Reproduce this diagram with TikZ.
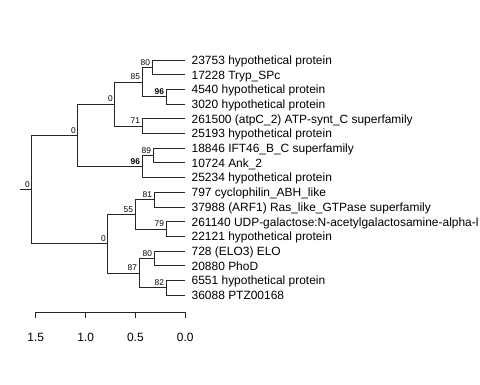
\documentclass[tikz,border=0pt]{standalone}
\usepackage{fontspec}
\setmainfont{Liberation Sans}
\begin{document}
\begin{tikzpicture}[x=1bp,y=-1bp,
  br/.style={draw=black!85,line width=0.9bp},
  tip/.style={font=\fontsize{12}{14}\selectfont,inner sep=0pt,anchor=base west},
  nl/.style={font=\fontsize{8.4}{10}\selectfont,inner sep=0pt,anchor=south east},
  nlb/.style={nl,font=\fontsize{8.4}{10}\selectfont\bfseries},
  axl/.style={font=\fontsize{12}{14}\selectfont,inner sep=0pt,anchor=base}]
\useasboundingbox (0,0) rectangle (480,384);
% internal nodes
\coordinate (R) at (31,189.55);
\coordinate (S) at (20,189.55);
\coordinate (A) at (77,135.35);
\coordinate (B) at (114,104.1);
\coordinate (C) at (142,82.05);
\coordinate (D) at (152,67.35);
\coordinate (E) at (166,96.75);
\coordinate (F) at (142,126.15);
\coordinate (G) at (142,166.6);
\coordinate (H) at (153,155.55);
\coordinate (I) at (107,243.75);
\coordinate (J) at (135,214.35);
\coordinate (K) at (154,199.65);
\coordinate (L) at (166,229.05);
\coordinate (M) at (139,273.15);
\coordinate (N) at (154,258.45);
\coordinate (O) at (166,287.85);
% tips
\foreach \i in {0,...,16}{\coordinate (t\i) at (184.5,{60+14.7*\i});}
% branches
\draw[br] (S) -- (R);
\draw[br] (R) |- (A); \draw[br] (R) |- (I);
\draw[br] (A) |- (B); \draw[br] (A) |- (G);
\draw[br] (B) |- (C); \draw[br] (B) |- (F);
\draw[br] (C) |- (D); \draw[br] (C) |- (E);
\draw[br] (D) |- (t0); \draw[br] (D) |- (t1);
\draw[br] (E) |- (t2); \draw[br] (E) |- (t3);
\draw[br] (F) |- (t4); \draw[br] (F) |- (t5);
\draw[br] (G) |- (H); \draw[br] (G) |- (t8);
\draw[br] (H) |- (t6); \draw[br] (H) |- (t7);
\draw[br] (I) |- (J); \draw[br] (I) |- (M);
\draw[br] (J) |- (K); \draw[br] (J) |- (L);
\draw[br] (K) |- (t9); \draw[br] (K) |- (t10);
\draw[br] (L) |- (t11); \draw[br] (L) |- (t12);
\draw[br] (M) |- (N); \draw[br] (M) |- (O);
\draw[br] (N) |- (t13); \draw[br] (N) |- (t14);
\draw[br] (O) |- (t15); \draw[br] (O) |- (t16);
% tip labels
\foreach \i/\t in {0/23753 hypothetical protein,1/17228 Tryp\_SPc,2/4540 hypothetical protein,3/3020 hypothetical protein,4/261500 (atpC\_2) ATP-synt\_C superfamily,5/25193 hypothetical protein,6/18846 IFT46\_B\_C superfamily,7/10724 Ank\_2,8/25234 hypothetical protein,9/797 cyclophilin\_ABH\_like,10/37988 (ARF1) Ras\_like\_GTPase superfamily,11/261140 UDP-galactose:N-acetylgalactosamine-alpha-l,12/22121 hypothetical protein,13/728 (ELO3) ELO,14/20880 PhoD,15/6551 hypothetical protein,16/36088 PTZ00168}
  {\path (t\i) ++(7,4.3) node[tip] (n\i) {\t};}
% node labels
\path (R) ++(-1,-2) node[nl] (lR) {0};
\path (A) ++(-1,-2) node[nl] (lA) {0};
\path (B) ++(-1,-2) node[nl] (lB) {0};
\path (C) ++(-1.8,-2) node[nl] (lC) {85};
\path (D) ++(-1.8,-2) node[nl] (lD) {80};
\path (E) ++(-1.8,-2) node[nlb] (lE) {96};
\path (F) ++(-1.8,-2) node[nl] (lF) {71};
\path (G) ++(-1.8,-2) node[nlb] (lG) {96};
\path (H) ++(-1.8,-2) node[nl] (lH) {89};
\path (I) ++(-1,-2) node[nl] (lI) {0};
\path (J) ++(-1.8,-2) node[nl] (lJ) {55};
\path (K) ++(-1.8,-2) node[nl] (lK) {81};
\path (L) ++(-1.8,-2) node[nl] (lL) {79};
\path (M) ++(-1.8,-2) node[nl] (lM) {87};
\path (N) ++(-1.8,-2) node[nl] (lN) {80};
\path (O) ++(-1.8,-2) node[nl] (lO) {82};
% scale axis
\coordinate (ax0) at (35.7,312);
\coordinate (ax3) at (185.3,312);
\draw[br] (ax0) -- (ax3);
\foreach \k/\v/\lab in {0/35.7/1.5,1/85.6/1.0,2/135.4/0.5,3/185.3/0.0}{
  \coordinate (tk\k) at (\v,312);
  \draw[br] (tk\k) -- ++(0,6);
  \path (tk\k) ++(0,29.3) node[axl] (al\k) {\lab};
}
\end{tikzpicture}
\end{document}
